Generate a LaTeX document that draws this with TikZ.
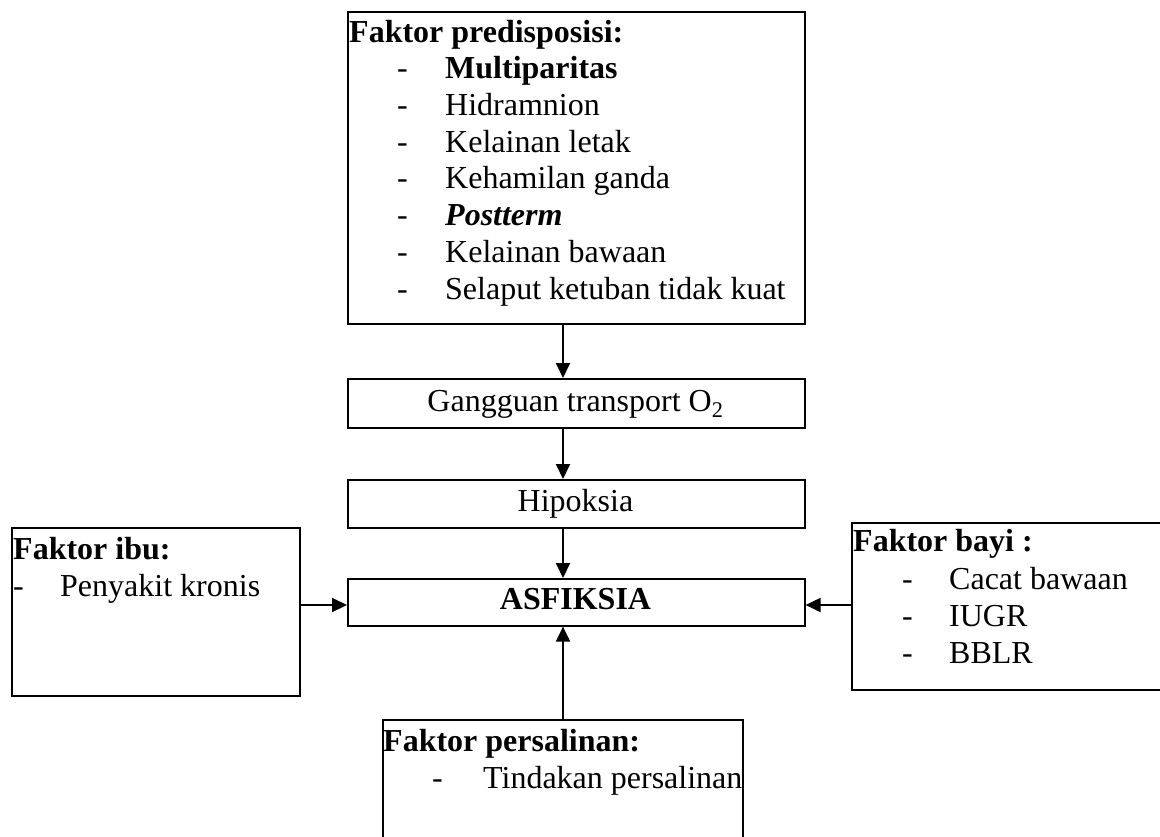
\documentclass[tikz,border=0pt]{standalone}
\usepackage{fontspec}
\setmainfont{Liberation Serif}
\usetikzlibrary{arrows.meta}
\begin{document}
\begin{tikzpicture}[x=1pt,y=-1pt,
  box/.style={draw=black,line width=1.6pt,rectangle,inner sep=0pt,anchor=north west},
  txt/.style={anchor=base west,inner sep=0pt,font=\fontsize{32}{37}\selectfont},
  ctxt/.style={anchor=base,inner sep=0pt,font=\fontsize{32}{37}\selectfont},
  arr/.style={line width=1.9pt,-{Triangle[length=15pt,width=14pt]}}]
\useasboundingbox (0,0) rectangle (1160,836);
\clip (0,0) rectangle (1160,836);
\fill[white] (0,0) rectangle (1160,836);
% boxes
\node[box,minimum width=457pt,minimum height=312pt] (top) at (347,11) {};
\node[box,minimum width=457pt,minimum height=49pt] (gang) at (347,378) {};
\node[box,minimum width=457pt,minimum height=48pt] (hip) at (347,479) {};
\node[box,minimum width=457pt,minimum height=47pt] (asf) at (347,578) {};
\node[box,minimum width=288pt,minimum height=168pt] (ibu) at (11,527) {};
\node[box,minimum width=320pt,minimum height=167pt] (bayi) at (851,522) {};
\node[box,minimum width=360pt,minimum height=140pt] (pers) at (382,719) {};
% top box text
\node[txt] (tp0) at (349,42) {\bfseries Faktor predisposisi:};
\node[txt] (td1) at (397,78) {-};
\node[txt] (tp1) at (445,78) {\bfseries Multiparitas};
\node[txt] (td2) at (397,115) {-};
\node[txt] (tp2) at (445,115) {Hidramnion};
\node[txt] (td3) at (397,152) {-};
\node[txt] (tp3) at (445,152) {Kelainan letak};
\node[txt] (td4) at (397,188) {-};
\node[txt] (tp4) at (445,188) {Kehamilan ganda};
\node[txt] (td5) at (397,225) {-};
\node[txt] (tp5) at (445,225) {\bfseries\itshape Postterm};
\node[txt] (td6) at (397,262) {-};
\node[txt] (tp6) at (445,262) {Kelainan bawaan};
\node[txt] (td7) at (397,299) {-};
\node[txt] (tp7) at (445,299) {Selaput ketuban tidak kuat};
% central texts
\node[ctxt] (gt) at (575.5,411) {Gangguan transport O\textsubscript{2}};
\node[ctxt] (ht) at (575.5,511) {Hipoksia};
\node[ctxt] (at) at (575.5,609) {\bfseries ASFIKSIA};
% left box text
\node[txt] (it0) at (13,559) {\bfseries Faktor ibu:};
\node[txt] (id1) at (13,596) {-};
\node[txt] (it1) at (60,596) {Penyakit kronis};
% right box text
\node[txt] (bt0) at (853,551) {\bfseries Faktor bayi :};
\node[txt] (bd1) at (902,589) {-};
\node[txt] (bt1) at (949,589) {Cacat bawaan};
\node[txt] (bd2) at (902,626) {-};
\node[txt] (bt2) at (949,626) {IUGR};
\node[txt] (bd3) at (902,663) {-};
\node[txt] (bt3) at (949,663) {BBLR};
% bottom box text
\node[txt] (pt0) at (383,751) {\bfseries Faktor persalinan:};
\node[txt] (pd1) at (432,788) {-};
\node[txt] (pt1) at (483,788) {Tindakan persalinan};
% connectors
\coordinate (ax) at (563,0);
\coordinate (ay) at (0,605);
\draw[arr] (top.south -| ax) -- (gang.north -| ax);
\draw[arr] (gang.south -| ax) -- (hip.north -| ax);
\draw[arr] (hip.south -| ax) -- (asf.north -| ax);
\draw[arr] (pers.north -| ax) -- (asf.south -| ax);
\draw[arr] (ibu.east |- ay) -- (asf.west |- ay);
\draw[arr] (bayi.west |- ay) -- (asf.east |- ay);
\end{tikzpicture}
\end{document}
